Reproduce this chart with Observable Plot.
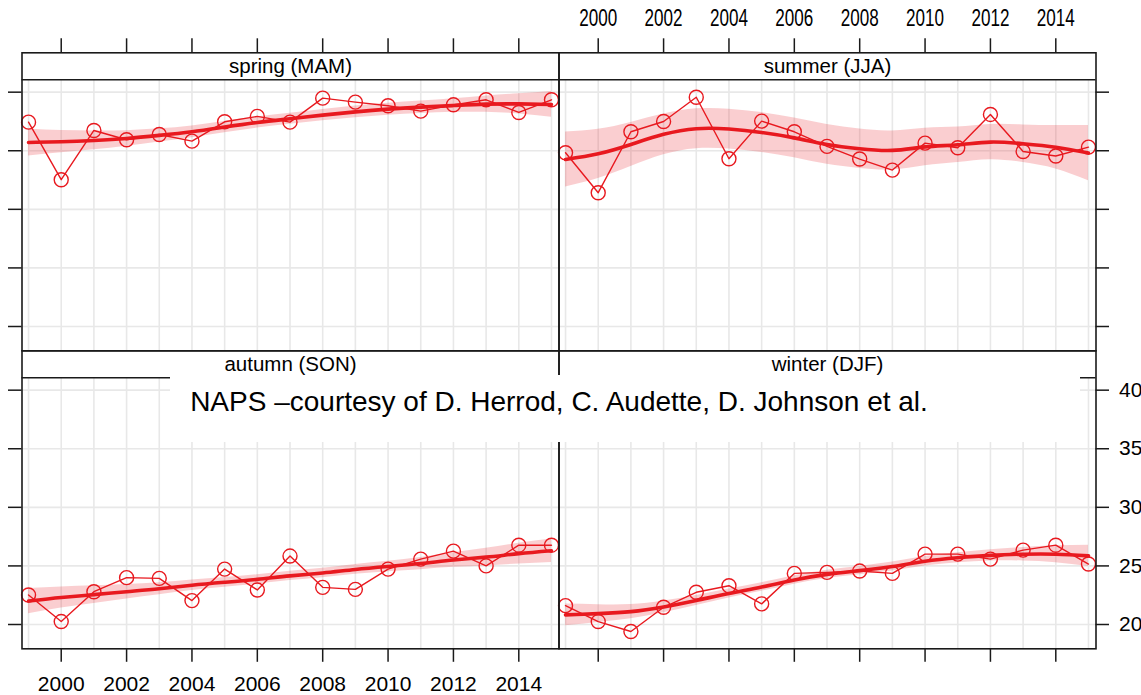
<!DOCTYPE html>
<html><head><meta charset="utf-8">
<script src="https://cdn.jsdelivr.net/npm/d3@7"></script>
<script src="https://cdn.jsdelivr.net/npm/@observablehq/plot@0.6"></script>
<style>
html,body{margin:0;padding:0;background:#fff;}
#wrap{position:relative;width:1141px;height:695px;overflow:hidden;font-family:"Liberation Sans",Arial,sans-serif;}
#chart{position:absolute;left:0;top:0;}
#box{position:absolute;left:170px;top:375px;width:910px;height:67px;background:#fff;}
#note{position:absolute;left:0;width:1118px;top:388px;text-align:center;font-size:28px;line-height:28px;color:#000;white-space:nowrap;}
</style></head><body>
<div id="wrap"><div id="chart"></div><div id="box"></div><div id="note">NAPS –courtesy of D. Herrod, C. Audette, D. Johnson et al.</div></div>
<script>
// ---- data ----
const years = [1999,2000,2001,2002,2003,2004,2005,2006,2007,2008,2009,2010,2011,2012,2013,2014,2015];
const seasons = ["spring (MAM)","summer (JJA)","autumn (SON)","winter (DJF)"];
const springVals = [37.44,32.53,36.73,35.94,36.39,35.82,37.47,37.93,37.44,39.49,39.15,38.84,38.38,38.92,39.35,38.27,39.35];
const summerVals = [34.83,31.42,36.62,37.5,39.57,34.32,37.53,36.62,35.37,34.29,33.35,35.65,35.26,38.1,34.94,34.55,35.31];
const autumnVals = [22.52,20.25,22.8,24.0,23.94,22.04,24.73,22.95,25.84,23.17,23.0,24.73,25.58,26.26,25.0,26.77,26.77];
const winterVals = [21.61,20.25,19.4,21.47,22.75,23.31,21.76,24.36,24.45,24.56,24.36,26.01,26.01,25.58,26.35,26.77,25.16];
const springSmooth = [35.71,35.77,35.88,36.05,36.31,36.62,37.02,37.41,37.73,38.04,38.32,38.55,38.72,38.86,38.98,39.0,38.95];
const summerSmooth = [34.26,34.74,35.54,36.4,36.88,36.85,36.56,36.1,35.54,35.17,35.03,35.33,35.51,35.74,35.6,35.3,34.8];
const autumnSmooth = [22.0,22.3,22.55,22.8,23.05,23.35,23.6,23.85,24.15,24.4,24.7,24.95,25.2,25.5,25.75,26.05,26.3];
const winterSmooth = [20.82,20.93,21.1,21.5,22.05,22.65,23.2,23.8,24.28,24.6,24.95,25.4,25.7,25.9,26.0,26.0,25.86];
const springBand = [1.15,0.95,0.8,0.66,0.56,0.5,0.48,0.47,0.47,0.48,0.5,0.51,0.53,0.58,0.7,0.86,1.1];
const summerBand = [2.35,2.1,1.88,1.74,1.7,1.7,1.7,1.7,1.7,1.68,1.66,1.6,1.52,1.5,1.6,1.85,2.35];
const autumnBand = [1.08,0.9,0.75,0.62,0.52,0.45,0.42,0.4,0.4,0.4,0.42,0.45,0.52,0.62,0.75,0.88,1.0];
const winterBand = [0.92,0.75,0.6,0.5,0.42,0.38,0.36,0.36,0.36,0.36,0.38,0.4,0.42,0.48,0.58,0.72,0.9];
const xTickYears = [2000,2002,2004,2006,2008,2010,2012,2014];
const yTicks = [20,25,30,35,40];

// ---- layout ----
const panelCol = ["L","R","L","R"];
const panelRow = ["T","T","B","B"];
const vals = [springVals, summerVals, autumnVals, winterVals];
const smooths = [springSmooth, summerSmooth, autumnSmooth, winterSmooth];
const bands = [springBand, summerBand, autumnBand, winterBand];

const X0 = 1998.8, X1 = 2015.23;
const Y0 = 17.926, YD = 41.06, YS = 43.36;
const facetW = 537, facetH = 298;
const pxX = facetW / (X1 - X0), pxY = facetH / (YS - Y0);

const RED = "#e8191f", PINK = "#e8191f", GRID = "#e8e8e8", INK = "#1a1a1a";

const table = [];
seasons.forEach((s, i) => years.forEach((yr, j) => table.push({
  season: s, col: panelCol[i], row: panelRow[i], year: yr,
  value: vals[i][j], smooth: smooths[i][j], half: bands[i][j]
})));
const panels = seasons.map((s, i) => ({season: s, col: panelCol[i], row: panelRow[i]}));

const cols = ["L","R"], rows = ["T","B"];
const topTicks = cols.flatMap(c => xTickYears.map(y => ({year: y, col: c, row: "T"})));
const topLabels = xTickYears.map(y => ({year: y, col: "R", row: "T"}));
const bottomTicks = cols.flatMap(c => xTickYears.map(y => ({year: y, col: c, row: "B"})));
const bottomLabels = xTickYears.map(y => ({year: y, col: "L", row: "B"}));
const leftTicks = rows.flatMap(r => yTicks.map(v => ({v, col: "L", row: r})));
const rightTicks = rows.flatMap(r => yTicks.map(v => ({v, col: "R", row: r})));
const rightLabels = yTicks.map(v => ({v, col: "R", row: "B"}));

const tickLen = 13.5;

const chart = Plot.plot({
  width: 1141, height: 695,
  marginTop: 52.3, marginBottom: 46.7, marginLeft: 21.5, marginRight: 45.5,
  x: {domain: [X0, X1], axis: null},
  y: {domain: [Y0, YS], axis: null},
  fx: {domain: cols, padding: 0, round: false, axis: null},
  fy: {domain: rows, padding: 0, round: false, axis: null},
  style: {fontFamily: '"Liberation Sans", Arial, sans-serif', fontSize: "21px", overflow: "visible", background: "white", color: "black"},
  marks: [
    Plot.ruleY(yTicks, {y: d => d, stroke: GRID, strokeWidth: 1.6}),
    Plot.ruleX(years, {x: d => d, y1: Y0, y2: YD, stroke: GRID, strokeWidth: 1.6}),
    Plot.areaY(table, {x: "year", y1: d => d.smooth - d.half, y2: d => d.smooth + d.half, fx: "col", fy: "row", fill: PINK, fillOpacity: 0.21, curve: "natural"}),
    Plot.line(table, {x: "year", y: "value", fx: "col", fy: "row", stroke: RED, strokeWidth: 1.4}),
    Plot.line(table, {x: "year", y: "smooth", fx: "col", fy: "row", stroke: RED, strokeWidth: 3.6, curve: "natural"}),
    Plot.dot(table, {x: "year", y: "value", fx: "col", fy: "row", r: 7, stroke: RED, strokeWidth: 1.4, fill: "none"}),
    Plot.frame({stroke: INK, strokeWidth: 1.6}),
    Plot.ruleY([YD], {y: d => d, stroke: INK, strokeWidth: 1.6}),
    Plot.text(panels, {x: (X0 + X1) / 2, y: (YD + YS) / 2, fx: "col", fy: "row", text: "season", fontSize: 20.5, fill: "black"}),
    // axes
    Plot.ruleX(topTicks, {x: "year", fx: "col", fy: "row", y1: YS, y2: YS + 14 / pxY, stroke: INK, strokeWidth: 1.5}),
    Plot.text(topLabels, {x: "year", fx: "col", fy: "row", y: YS, dy: -34, text: d => String(d.year), fontSize: 23.5, fill: "black", ariaDescription: "toplabels"}),
    Plot.ruleX(bottomTicks, {x: "year", fx: "col", fy: "row", y1: Y0, y2: Y0 - tickLen / pxY, stroke: INK, strokeWidth: 1.5}),
    Plot.text(bottomLabels, {x: "year", fx: "col", fy: "row", y: Y0, dy: 35, text: d => String(d.year), fontSize: 21, fill: "black"}),
    Plot.ruleY(leftTicks, {y: "v", fx: "col", fy: "row", x1: X0 - tickLen / pxX, x2: X0, stroke: INK, strokeWidth: 1.5}),
    Plot.ruleY(rightTicks, {y: "v", fx: "col", fy: "row", x1: X1, x2: X1 + tickLen / pxX, stroke: INK, strokeWidth: 1.5}),
    Plot.text(rightLabels, {y: "v", fx: "col", fy: "row", x: X1, dx: 23, textAnchor: "start", text: d => String(d.v), fontSize: 21, fill: "black"})
  ]
});
document.getElementById("chart").appendChild(chart);
chart.querySelectorAll('[aria-description="toplabels"] text').forEach(t => {
  t.setAttribute("textLength", 38);
  t.setAttribute("lengthAdjust", "spacingAndGlyphs");
});
</script>
</body></html>
